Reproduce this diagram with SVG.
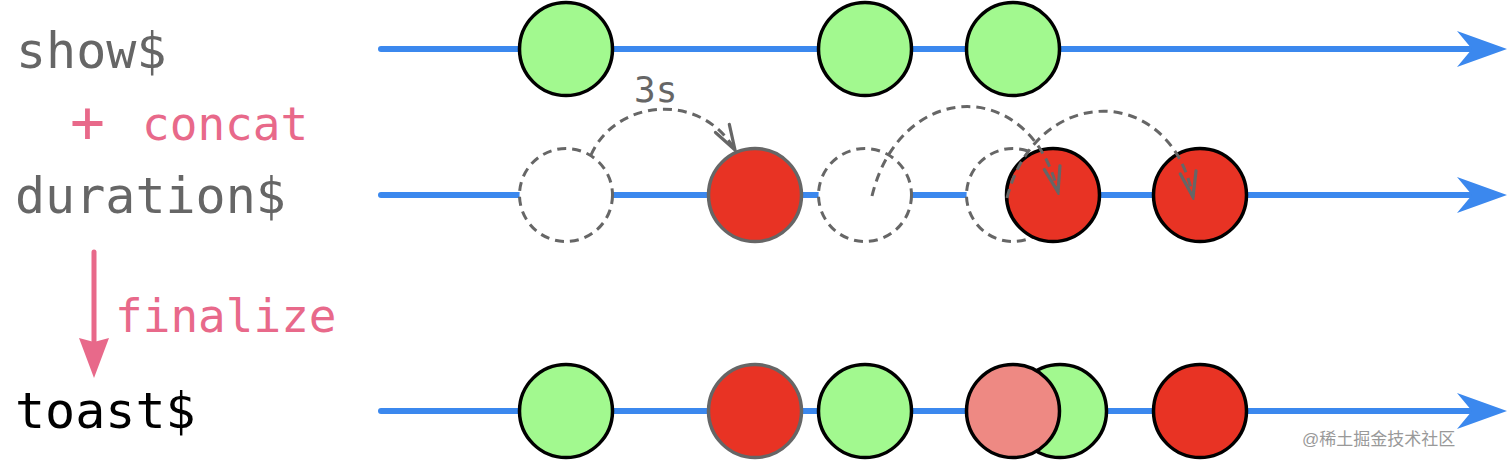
<svg xmlns="http://www.w3.org/2000/svg" width="1512" height="463" viewBox="0 0 1512 463">
<style>
.lbl{font-family:"DejaVu Sans Mono","Liberation Mono",monospace;font-size:50px}
.op{font-family:"DejaVu Sans Mono","Liberation Mono",monospace;font-size:46px;fill:#e8698a}
.tl{stroke:#3b88ee;stroke-width:6;stroke-linecap:round;fill:none}
.g{fill:#a2f98f;stroke:#000;stroke-width:3.5}
.r{fill:#e83324;stroke:#000;stroke-width:3.5}
.rg{fill:#e83324;stroke:#666;stroke-width:3.5}
.p{fill:#ee8983;stroke:#000;stroke-width:3.5}
.d{fill:#fff;stroke:#666;stroke-width:3;stroke-dasharray:9 6}
.da{fill:none;stroke:#666;stroke-width:3;stroke-dasharray:9 6}
</style>
<defs>
<marker id="blueHead" markerUnits="userSpaceOnUse" viewBox="0 0 50 36" refX="15" refY="18" markerWidth="50" markerHeight="36" orient="auto">
<path d="M0,0 L50,18 L0,36 L15,18 Z" fill="#3b88ee"/>
</marker>
<marker id="grayHead" markerUnits="userSpaceOnUse" viewBox="0 0 30 20" refX="27" refY="10" markerWidth="30" markerHeight="20" orient="auto">
<path d="M2,2 L27,10 L2,18" fill="none" stroke="#666" stroke-width="3.2" stroke-linecap="round"/>
</marker>
<marker id="pinkHead" markerUnits="userSpaceOnUse" viewBox="0 0 40 30" refX="4" refY="15" markerWidth="40" markerHeight="30" orient="auto">
<path d="M0,0 L40,15 L0,30 L4,15 Z" fill="#e8698a"/>
</marker>
</defs>

<g id="labels">
<text class="lbl" x="16" y="68" fill="#666">show$</text>
<text class="op" x="70" y="142" style="font-size:58px">+</text>
<text class="op" x="142" y="140">concat</text>
<text class="lbl" x="15" y="213" fill="#666">duration$</text>
<text class="op" x="115" y="332">finalize</text>
<text class="lbl" x="15" y="428" fill="#000">toast$</text>
</g>

<g id="timelines">
<line class="tl" x1="381" y1="49" x2="1472" y2="49" marker-end="url(#blueHead)"/>
<line class="tl" x1="381" y1="195" x2="1472" y2="195" marker-end="url(#blueHead)"/>
<line class="tl" x1="381" y1="411" x2="1472" y2="411" marker-end="url(#blueHead)"/>
</g>

<g id="show-1"><circle class="g" cx="566" cy="49" r="46.5"/></g>
<g id="show-2"><circle class="g" cx="865" cy="49" r="46.5"/></g>
<g id="show-3"><circle class="g" cx="1013" cy="49" r="46.5"/></g>

<g id="dur-ghost-1"><circle class="d" cx="566" cy="195" r="46.5"/></g>
<g id="dur-ghost-2"><circle class="d" cx="865" cy="195" r="46.5"/></g>
<g id="dur-ghost-3"><circle class="d" cx="1013" cy="195" r="46.5"/></g>
<g id="dur-1"><circle class="rg" cx="755" cy="195" r="46.5"/></g>
<g id="dur-2"><circle class="r" cx="1053" cy="195" r="46.5"/></g>
<g id="dur-3"><circle class="r" cx="1200" cy="195" r="46.5"/></g>

<g id="toast-1"><circle class="g" cx="566" cy="411" r="46.5"/></g>
<g id="toast-2"><circle class="rg" cx="755" cy="411" r="46.5"/></g>
<g id="toast-3"><circle class="g" cx="865" cy="411" r="46.5"/></g>
<g id="toast-5"><circle class="g" cx="1060" cy="411" r="46.5"/></g>
<g id="toast-4"><circle class="p" cx="1013" cy="411" r="46.5"/></g>
<g id="toast-6"><circle class="r" cx="1200" cy="411" r="46.5"/></g>

<g id="connectors">
<path class="da" d="M591,155 C615,100 700,90 735,150" marker-end="url(#grayHead)"/>
<path class="da" d="M872,196 C900,80 1030,75 1058,192" marker-end="url(#grayHead)"/>
<path class="da" d="M1007,198 C1035,85 1170,80 1193,197" marker-end="url(#grayHead)"/>
<line x1="94" y1="252" x2="94" y2="342" stroke="#e8698a" stroke-width="5" stroke-linecap="round" marker-end="url(#pinkHead)"/>
<text x="634" y="102" font-family="DejaVu Sans Mono, Liberation Mono, monospace" font-size="36" fill="#666">3s</text>
</g>

<text x="1302" y="445" font-family="Liberation Sans, Noto Sans CJK SC, sans-serif" font-size="17" fill="#999">@稀土掘金技术社区</text>
</svg>
